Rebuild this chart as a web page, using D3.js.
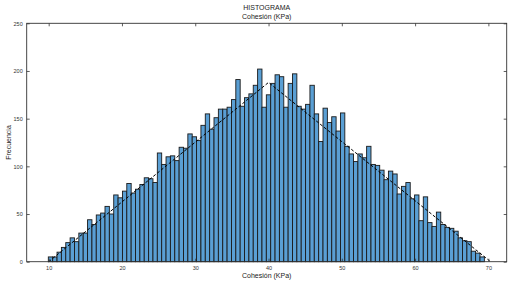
<!DOCTYPE html>
<html>
<head>
<meta charset="utf-8">
<script src="https://cdn.jsdelivr.net/npm/d3@7"></script>
<style>
  html, body { margin: 0; padding: 0; background: #fff; }
  svg { display: block; font-family: "Liberation Sans", Arial, sans-serif; }
</style>
</head>
<body>
<div id="chart"></div>
<script>
// histogram data: 100 bins
const binStart = 9.95;
const binWidth = 0.595;
const counts = [
  5, 5, 10, 15, 20, 25, 21, 30, 30, 44,
  39, 49, 51, 58, 50, 70, 67, 74, 82, 72,
  76, 81, 88, 87, 83, 114, 102, 110, 111, 106,
  120, 119, 134, 131, 127, 143, 155, 139, 151, 160,
  160, 162, 170, 191, 163, 172, 176, 185, 202, 162,
  175, 187, 196, 194, 162, 187, 197, 163, 160, 165,
  185, 155, 126, 161, 146, 152, 137, 156, 121, 113,
  105, 113, 109, 121, 102, 101, 96, 86, 95, 92,
  71, 79, 83, 66, 70, 43, 68, 41, 37, 52,
  39, 36, 35, 32, 25, 22, 21, 11, 9, 5
];
// dashed fitted curve (triangular)
const fitX = [10, 40, 70.3];
const fitY = [0, 188, 0];

const xTicks = [10, 20, 30, 40, 50, 60, 70];
const yTicks = [0, 50, 100, 150, 200, 250];

const W = 516, H = 284;
const m = {left: 26.7, right: 516 - 506.7, top: 23.3, bottom: 284 - 261.7};

const svg = d3.select("#chart").append("svg")
  .attr("width", W).attr("height", H);

const x = d3.scaleLinear().domain([7, 72.5]).range([m.left, W - m.right]);
const y = d3.scaleLinear().domain([0, 250]).range([H - m.bottom, m.top]);

const bins = counts.map((c, i) => ({x0: binStart + i * binWidth, x1: binStart + (i + 1) * binWidth, n: c}));

// bars
svg.append("g").selectAll("rect")
  .data(bins)
  .join("rect")
  .attr("x", d => x(d.x0))
  .attr("y", d => y(d.n))
  .attr("width", d => x(d.x1) - x(d.x0))
  .attr("height", d => y(0) - y(d.n))
  .attr("fill", "#5a9fd4")
  .attr("stroke", "#1a1a1a")
  .attr("stroke-width", 0.9);

// dashed line
const line = d3.line().x(d => x(d[0])).y(d => y(d[1]));
svg.append("path")
  .datum(fitX.map((v, i) => [v, fitY[i]]))
  .attr("d", line)
  .attr("fill", "none")
  .attr("stroke", "#000")
  .attr("stroke-width", 1)
  .attr("stroke-dasharray", "3,2");

// axes (ticks inward on all sides)
const tickStyle = g => {
  g.select(".domain").remove();
  g.selectAll(".tick line").attr("stroke", "#333").attr("stroke-width", 0.8);
  g.selectAll(".tick text").attr("fill", "#333").style("font-size", "5.5px");
};

svg.append("g").attr("transform", `translate(0,${H - m.bottom})`)
  .call(d3.axisBottom(x).tickValues(xTicks).tickSize(-3).tickPadding(4))
  .call(tickStyle);
svg.append("g").attr("transform", `translate(0,${m.top})`)
  .call(d3.axisTop(x).tickValues(xTicks).tickSize(-3).tickFormat(""))
  .call(tickStyle);
svg.append("g").attr("transform", `translate(${m.left},0)`)
  .call(d3.axisLeft(y).tickValues(yTicks).tickSize(-3).tickPadding(4))
  .call(tickStyle);
svg.append("g").attr("transform", `translate(${W - m.right},0)`)
  .call(d3.axisRight(y).tickValues(yTicks).tickSize(-3).tickFormat(""))
  .call(tickStyle);

// frame
svg.append("rect")
  .attr("x", m.left).attr("y", m.top)
  .attr("width", W - m.left - m.right).attr("height", H - m.top - m.bottom)
  .attr("fill", "none").attr("stroke", "#333").attr("stroke-width", 0.9);

// titles
const cx = (m.left + W - m.right) / 2;
svg.append("text").attr("x", cx).attr("y", 10).attr("text-anchor", "middle")
  .style("font-size", "7px").attr("fill", "#222").text("HISTOGRAMA");
svg.append("text").attr("x", cx).attr("y", 19).attr("text-anchor", "middle")
  .style("font-size", "7px").attr("fill", "#222").text("Cohesión (KPa)");
svg.append("text").attr("x", cx).attr("y", 278).attr("text-anchor", "middle")
  .style("font-size", "7px").attr("fill", "#222").text("Cohesión (KPa)");
svg.append("text")
  .attr("transform", `translate(10.5,${(m.top + H - m.bottom) / 2}) rotate(-90)`)
  .attr("text-anchor", "middle")
  .style("font-size", "7px").attr("fill", "#222").text("Frecuencia");
</script>
</body>
</html>
